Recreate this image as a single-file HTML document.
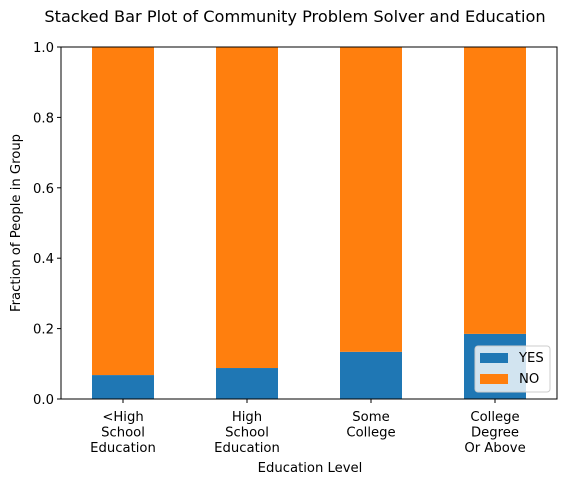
<!DOCTYPE html>
<html><head><meta charset="utf-8"><style>
body{margin:0;background:#fff}
svg{font-family:"DejaVu Sans","Liberation Sans",sans-serif;display:block}
</style></head><body>
<svg id="chart" width="577" height="485">
<text x="295" y="22" font-size="16.2" text-anchor="middle">Stacked Bar Plot of Community Problem Solver and Education</text>
<g id="bars"></g>
<rect x="61" y="47" width="496" height="352" fill="none" stroke="#000" stroke-width="1"/>
<g id="axes"></g>
<text x="310" y="472" font-size="13.2" text-anchor="middle">Education Level</text>
<text transform="translate(20,223) rotate(-90)" font-size="13.2" text-anchor="middle">Fraction of People in Group</text>
<g>
<rect x="475" y="346" width="75" height="46" rx="3" fill="#fff" fill-opacity="0.8" stroke="#ccc"/>
<rect x="480" y="353" width="28" height="10" fill="#1f77b4"/>
<text x="519" y="362" font-size="13.2">YES</text>
<rect x="480" y="374" width="28" height="10" fill="#ff7f0e"/>
<text x="519" y="383" font-size="13.2">NO</text>
</g>
</svg>
<script>
const categories=[["<High","School","Education"],["High","School","Education"],["Some","College"],["College","Degree","Or Above"]];
const yesValues=[0.068,0.088,0.134,0.185];
const noValues=[0.932,0.912,0.866,0.815];
const yTicks=[0,0.2,0.4,0.6,0.8,1.0];
const tickLabels=["0.0","0.2","0.4","0.6","0.8","1.0"];
const NS="http://www.w3.org/2000/svg";
const L=61,R=557,T=47,B=399;
const slot=(R-L)/categories.length;
const xc=i=>L+slot*(i+0.5);
const y=v=>B-(v/1)*(B-T);
function mk(t,a,p){const e=document.createElementNS(NS,t);for(const k in a)e.setAttribute(k,a[k]);p.appendChild(e);return e;}
const bars=document.getElementById('bars'),axes=document.getElementById('axes');
const bw=62;
categories.forEach((c,i)=>{
 const r1=mk('rect',{x:xc(i)-bw/2,y:y(yesValues[i]),width:bw,height:B-y(yesValues[i]),fill:'#1f77b4'},bars);
 
 
 const top=yesValues[i]+noValues[i];
 const r2=mk('rect',{x:xc(i)-bw/2,y:y(top),width:bw,height:y(yesValues[i])-y(top),fill:'#ff7f0e'},bars);
 
 
 mk('line',{x1:xc(i),x2:xc(i),y1:B,y2:B+4,stroke:'#000'},axes);
 const t=mk('text',{x:xc(i),'text-anchor':'middle','font-size':13.2},axes);
 
 
 c.forEach((ln,j)=>{const s=mk('tspan',{x:xc(i),y:421+j*15.5},t);s.textContent=ln;});
});
yTicks.forEach((v,i)=>{
 mk('line',{x1:L-4,x2:L,y1:y(v),y2:y(v),stroke:'#000'},axes);
 const t=mk('text',{x:L-7,y:y(v)+5,'text-anchor':'end','font-size':13.2},axes);
 
 
 t.textContent=tickLabels[i];
});
</script>
</body></html>
